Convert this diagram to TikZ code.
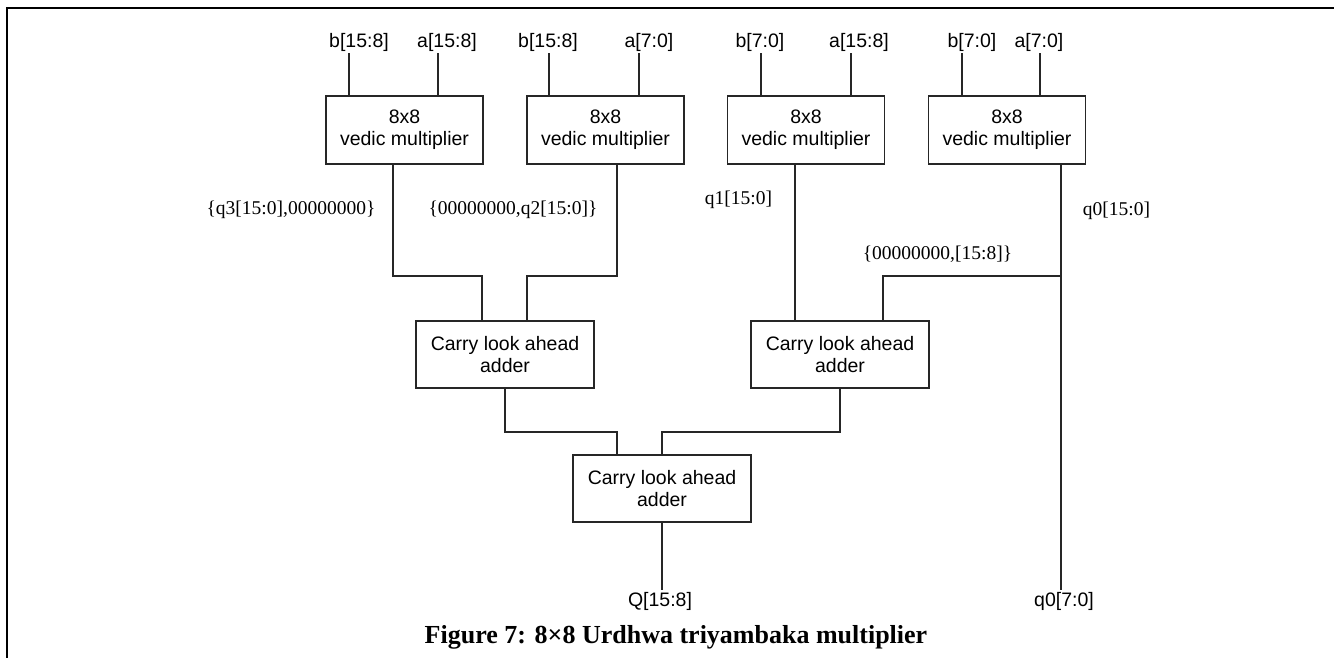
\documentclass[tikz,border=0pt]{standalone}
\usepackage{fontspec}
\newfontfamily\arialf{Liberation Sans}
\newfontfamily\serff{Liberation Serif}
\begin{document}
\begin{tikzpicture}[x=1pt,y=-1pt,
  wire/.style={draw=black!85, line width=1.1pt},
  blk/.style={draw=black!85, line width=1.1pt, fill=white, align=center, inner sep=0pt,
    font=\arialf\fontsize{19.5}{22}\selectfont},
  vm/.style={blk, minimum width=157pt, minimum height=68pt},
  cla/.style={blk, minimum width=178pt, minimum height=67pt},
  sanslab/.style={inner sep=0pt, font=\arialf\fontsize{19.5}{22}\selectfont},
  seriflab/.style={inner sep=0pt, font=\serff\fontsize{19.5}{22}\selectfont},
  caption/.style={inner sep=0pt, font=\serff\bfseries\fontsize{26}{30}\selectfont}]
\useasboundingbox (0,0) rectangle (1334,657);
% frame
\draw[line width=2pt] (1340,8) -- (7,8) -- (7,665);

% multipliers
\node[vm] (v1) at (404.5,130) {8x8\\vedic multiplier};
\node[vm] (v2) at (605.5,130) {8x8\\vedic multiplier};
\node[vm] (v3) at (806,130) {8x8\\vedic multiplier};
\node[vm] (v4) at (1007,130) {8x8\\vedic multiplier};

% adders
\node[cla] (a1) at (505,354.5) {Carry look ahead\\adder};
\node[cla] (a2) at (840,354.5) {Carry look ahead\\adder};
\node[cla] (a3) at (662,488.5) {Carry look ahead\\adder};

% input labels
\node[sanslab] (l1b) at (359,42) {b[15:8]};
\node[sanslab] (l1a) at (447,42) {a[15:8]};
\node[sanslab] (l2b) at (548,42) {b[15:8]};
\node[sanslab] (l2a) at (649,42) {a[7:0]};
\node[sanslab] (l3b) at (760,42) {b[7:0]};
\node[sanslab] (l3a) at (859,42) {a[15:8]};
\node[sanslab] (l4b) at (972,42) {b[7:0]};
\node[sanslab] (l4a) at (1039,42) {a[7:0]};

% input pins
\coordinate (p1b) at (349,53);
\coordinate (p1a) at (438,53);
\coordinate (p2b) at (549,53);
\coordinate (p2a) at (639,53);
\coordinate (p3b) at (761,53);
\coordinate (p3a) at (851,53);
\coordinate (p4b) at (962,53);
\coordinate (p4a) at (1040,53);
\draw[wire] (p1b) -- (p1b |- v1.north);
\draw[wire] (p1a) -- (p1a |- v1.north);
\draw[wire] (p2b) -- (p2b |- v2.north);
\draw[wire] (p2a) -- (p2a |- v2.north);
\draw[wire] (p3b) -- (p3b |- v3.north);
\draw[wire] (p3a) -- (p3a |- v3.north);
\draw[wire] (p4b) -- (p4b |- v4.north);
\draw[wire] (p4a) -- (p4a |- v4.north);

% intermediate labels
\node[seriflab] (q3l) at (291,210) {\{q3[15:0],00000000\}};
\node[seriflab] (q2l) at (513,210) {\{00000000,q2[15:0]\}};
\node[seriflab] (q1l) at (738.5,200) {q1[15:0]};
\node[seriflab] (q0l) at (1116.5,211) {q0[15:0]};
\node[seriflab] (shl) at (937.5,254) {\{00000000,[15:8]\}};

% outputs
\node[sanslab] (qo) at (660,601) {Q[15:8]};
\node[sanslab] (q0o) at (1064,601) {q0[7:0]};
\coordinate (qend) at (662,590);
\coordinate (q0end) at (1061,590);
\coordinate (brq0) at (1061,276);

% multiplier outputs to adders
\draw[wire] (v1.south -| 393,0) -- (393,276) -- (482,276) -- (a1.north -| 482,0);
\draw[wire] (v2.south -| 617,0) -- (617,276) -- (527,276) -- (a1.north -| 527,0);
\draw[wire] (v3.south -| 795,0) -- (a2.north -| 795,0);
\draw[wire] (v4.south -| q0end) -- (q0end);
\draw[wire] (brq0) -- (883,276) -- (a2.north -| 883,0);

% adders to final adder
\draw[wire] (a1.south) -- (505,432) -- (617,432) -- (a3.north -| 617,0);
\draw[wire] (a2.south) -- (840,432) -- (662,432) -- (a3.north);
\draw[wire] (a3.south) -- (qend);

% caption
\node[caption] (cap) at (676,637) {Figure 7: 8×8 Urdhwa triyambaka multiplier};
\end{tikzpicture}
\end{document}
